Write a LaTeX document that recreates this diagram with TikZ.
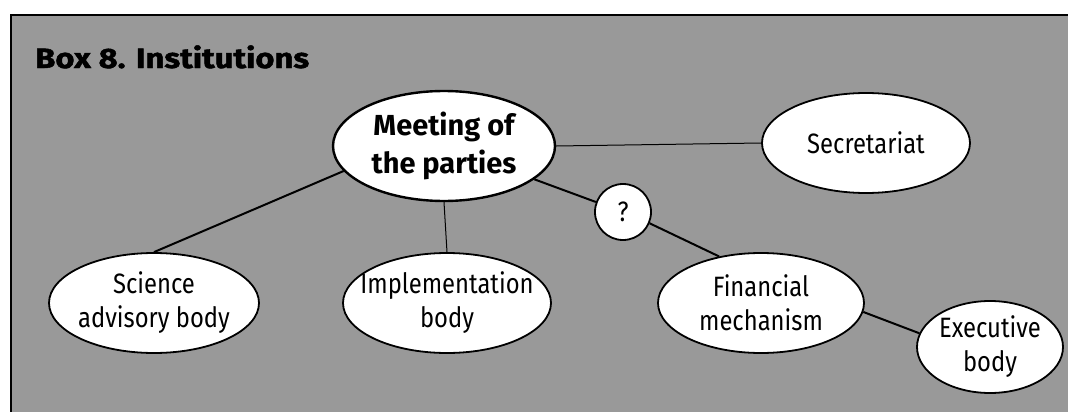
\documentclass[tikz,border=0pt]{standalone}
\usepackage{fontspec}
\setmainfont{Fira Sans}
\newfontfamily\narrowfont{Fira Sans}[FakeStretch=0.85]
\newfontfamily\titlefont{Fira Sans}[FakeStretch=1.17, BoldFeatures={FakeBold=1.6}]
\usetikzlibrary{shapes.geometric}
\tikzset{
  inst/.style={ellipse, draw, line width=1.8pt, fill=white, inner sep=0pt},
  txt/.style={font=\narrowfont\fontsize{28}{34}\selectfont, align=center, inner sep=0pt},
  thinlink/.style={line width=1pt},
  link/.style={line width=2pt}
}

\begin{document}
\begin{tikzpicture}[x=1pt, y=-1pt]
          \useasboundingbox (0, 0) rectangle (1068, 412);
          \fill[black!40] (11, 15) rectangle (1068, 412);
          \draw[line width=2pt] (11, 412) -- (11, 15) -- (1068, 15);
          \node[anchor=base west, inner sep=0pt, font=\titlefont\bfseries\fontsize{28}{34}\selectfont] (title) at (35, 68) {Box 8. Institutions};
          \node[inst, line width=2.4pt, minimum width=222pt, minimum height=110pt,
                label={[txt, font=\bfseries\fontsize{29}{38}\selectfont]center:Meeting of\\the parties}] (meet) at (444, 146) {};
          \node[inst, minimum width=208pt, minimum height=100pt, label={[txt]center:Secretariat}] (sec) at (866, 143) {};
          \node[inst, circle, minimum size=56pt, label={[txt]center:?}] (q) at (623, 212) {};
          \node[inst, minimum width=210pt, minimum height=100pt, label={[txt]center:Science\\advisory body}] (sci) at (154, 303) {};
          \node[inst, minimum width=208pt, minimum height=100pt, label={[txt]center:Implementation\\body}] (impl) at (447, 303) {};
          \node[inst, minimum width=206pt, minimum height=100pt, label={[txt]center:Financial\\mechanism}] (fin) at (761, 303) {};
          \node[inst, minimum width=146pt, minimum height=92pt, label={[txt]center:Executive\\body}] (exec) at (990, 347) {};
          \draw[thinlink] (meet.east) -- (sec.west);
          \draw[thinlink] (meet.south) -- (impl.north);
          \draw[link] (sci.north) -- (meet.194);
          \draw[link] (meet) -- (q);
          \draw[link] (q.-23) -- (fin.132);
          \draw[link] (fin.-5) -- (exec.169);
        \end{tikzpicture}
\end{document}
